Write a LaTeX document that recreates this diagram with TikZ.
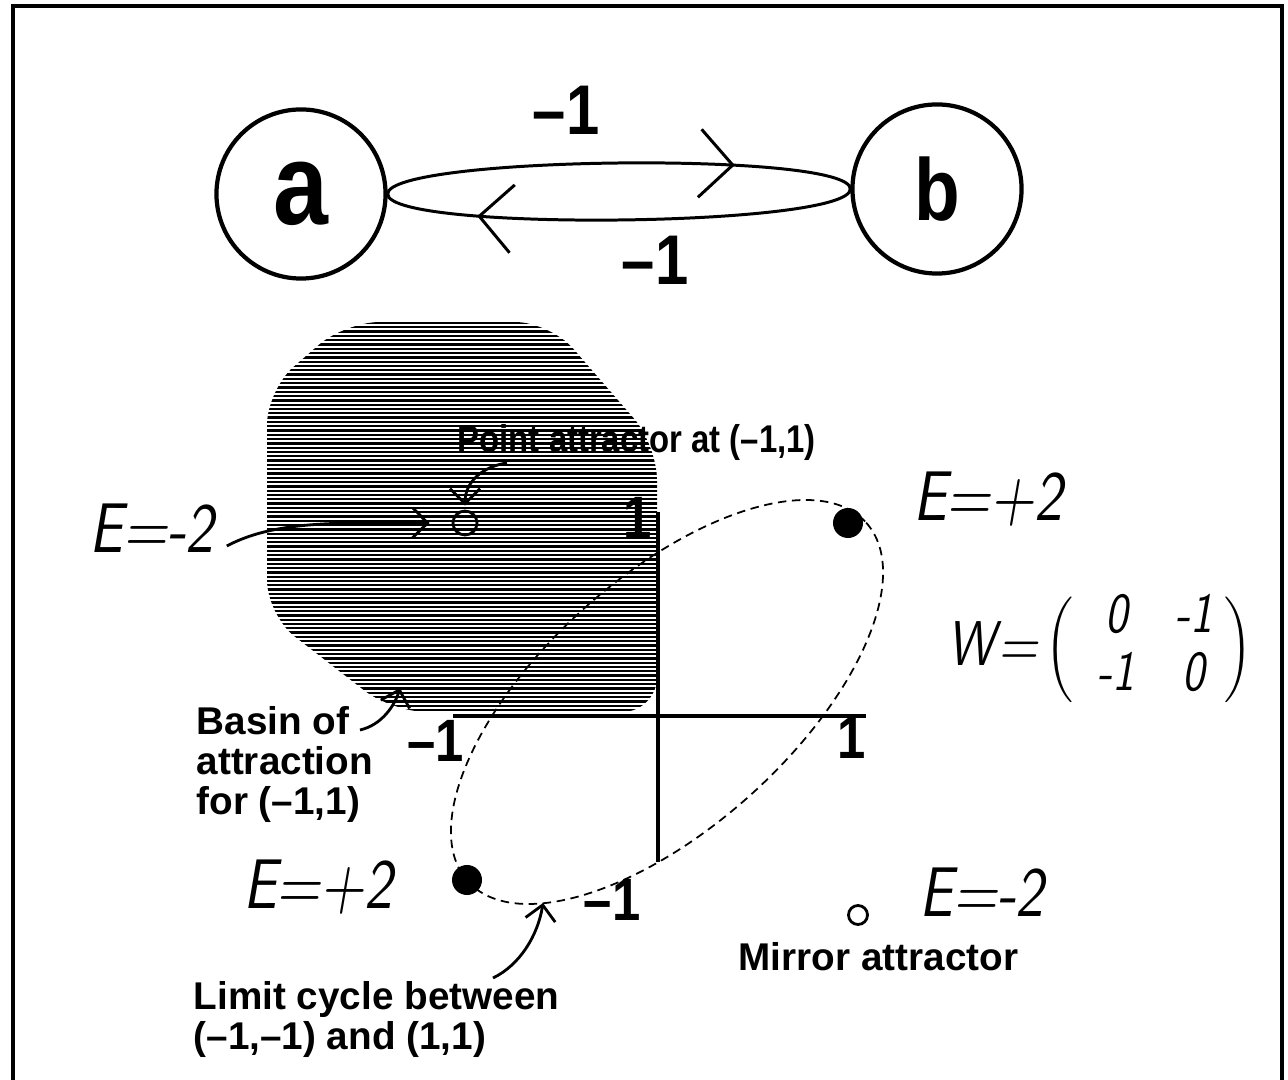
\documentclass[tikz,border=0pt]{standalone}
\usepackage{fontspec}
\newfontfamily\labfont{Liberation Sans}[Ligatures=TeX]
\newfontfamily\narfont{Liberation Sans}[Ligatures=TeX, FakeStretch=0.85]
\newfontfamily\handfont{lmsans10-oblique.otf}[FakeStretch=0.8]
\usetikzlibrary{arrows.meta, positioning, calc, decorations.markings}

\tikzset{
  unit/.style={draw, circle, line width=1.2pt, minimum size=1.69cm, inner sep=0pt, font=\narfont\bfseries},
  wlabel/.style={font=\narfont\bfseries\fontsize{20}{20}\selectfont, inner sep=0pt},
  link/.style={line width=0.85pt},
  axis/.style={line width=1.1pt},
  axlabel/.style={font=\narfont\bfseries\fontsize{17}{17}\selectfont, inner sep=0pt},
  note/.style={font=\labfont\bfseries\fontsize{11}{11.4}\selectfont, align=left, inner sep=0pt},
  hand/.style={font=\handfont\fontsize{20}{20}\selectfont, inner sep=0pt},
  hand arrow/.style={line width=0.8pt, -{Straight Barb[length=1.5mm, width=3mm]}},
  limit/.style={line width=0.5pt, dash pattern=on 2.4pt off 1.6pt},
  hatch/.style={line width=0.65pt},
  fixed pt/.style={circle, fill=black, minimum size=0.3cm, inner sep=0pt},
  open pt/.style={circle, draw, line width=0.8pt, minimum size=0.24cm, inner sep=0pt},
}

\begin{document}
\begin{tikzpicture}[x=0.01cm, y=-0.01cm]
  \useasboundingbox (0,0) rectangle (1288,1080);
  
  % frame
  \draw[line width=0.9pt] (13,1080) -- (13,6) -- (1282,6) -- (1282,1080);
  
  % two-unit network
  \node[unit] (a) at (301,194) {\fontsize{33}{33}\selectfont a};
  \node[unit] (b) at (937,189) {\fontsize{25}{25}\selectfont b};
  \draw[link, postaction={decorate}, decoration={markings, mark=at position 0.745 with {\arrow{Straight Barb[length=3.3mm, width=6.8mm]}}}]
    (a.east) .. controls +(0,-38) and +(0,-38) .. (b.west);
  \draw[link, postaction={decorate}, decoration={markings, mark=at position 0.8 with {\arrow{Straight Barb[length=3.3mm, width=6.8mm]}}}]
    (b.west) .. controls +(0,38) and +(0,38) .. (a.east);
  \node[wlabel] (wab) at (566,110) {--1};
  \node[wlabel] (wba) at (655,260) {--1};
  
  % basin of attraction
  \begin{scope}
    \clip[rounded corners=0.35cm] (345,322) -- (550,322) -- (657,445) -- (657,712)
      -- (392,712) -- (267,615) -- (267,390) -- cycle;
    \foreach \hy in {323,327.3,...,712}
      \draw[hatch] (260,\hy) -- (660,\hy);
  \end{scope}
  
  % state space axes
  \coordinate (ytop) at (658,512);
  \coordinate (ybot) at (658,862);
  \coordinate (xleft) at (453,716);
  \coordinate (xright) at (866,716);
  \draw[axis] (ytop) -- (ybot);
  \draw[axis] (xleft) -- (xright);
  \node[axlabel] (ty) at (638,518) {1};
  \node[axlabel] (by) at (612,900) {--1};
  \node[axlabel] (lx) at (436,741) {--1};
  \node[axlabel] (rx) at (852,738) {1};
  
  % limit cycle
  \draw[limit, rotate around={42:(667,702)}] (667,702) ellipse [x radius=268, y radius=125];
  \node[fixed pt] (cyc1) at (848,523) {};
  \node[fixed pt] (cyc2) at (467,880) {};
  
  % attractors
  \node[open pt] (pa) at (465,523) {};
  \node[open pt, minimum size=0.19cm] (mpt) at (858,915) {};
  
  % handwritten labels
  \node[hand] (Em2) at (152,528) {E=-2};
  \node[hand] (Ep2a) at (988,499) {E=+2};
  \node[hand] (Ep2b) at (318,887) {E=+2};
  \node[hand] (Em2b) at (982,892) {E=-2};
  \node[hand] (wmat) at (1100,650) {\fontsize{18}{18}\selectfont W\kern1pt=\kern2pt$\left(\mbox{\handfont\fontsize{16}{16.5}\selectfont\begin{tabular}{@{\hspace{0.25cm}}c@{\hspace{0.4cm}}c@{\hspace{0.12cm}}}0&-1\\-1&0\end{tabular}}\right)$};
  
  % printed notes
  \node[note, font=\narfont\bfseries\fontsize{11}{11.4}\selectfont, anchor=base west] (ptxt) at (457,453) {Point attractor at (--1,1)};
  \node[note, anchor=north west] (btxt) at (196,706) {Basin of\\attraction\\for (--1,1)};
  \node[note, anchor=north west] (ltxt) at (193,981) {Limit cycle between\\(--1,--1) and (1,1)};
  \node[note, anchor=base west] (mtxt) at (738,970) {Mirror attractor};
  
  % pointers
  \coordinate (basinpt) at (400,688);
  \coordinate (cycpt) at (543,903);
  \draw[hand arrow] ($(Em2.east)+(12,18)$) .. controls (272,522) and (330,522) .. ($(pa.west)+(-22,0)$);
  \draw[hand arrow] ($(ptxt.base west)+(50,10)$) .. controls (485,466) and (465,480) .. ($(pa.north)+(0,-4)$);
  \draw[hand arrow] ($(btxt.north west)+(164,24)$) .. controls (382,725) and (395,705) .. (basinpt);
  \draw[hand arrow] ($(ltxt.north west)+(300,-3)$) .. controls (520,965) and (538,935) .. (cycpt);
\end{tikzpicture}
\end{document}
